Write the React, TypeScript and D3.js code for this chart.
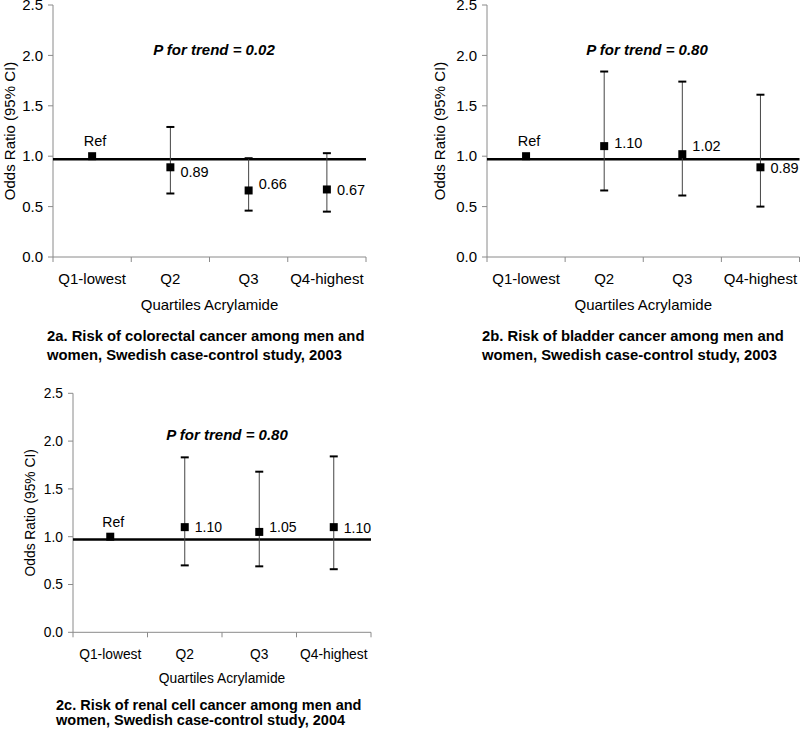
import React from "react";
import * as d3 from "d3";

// ---------- data ----------
const categories = ["Q1-lowest", "Q2", "Q3", "Q4-highest"];
const yTicks = [0, 0.5, 1.0, 1.5, 2.0, 2.5];
const referenceLineValue = 0.97;

const colorectalOR = [1.0, 0.89, 0.66, 0.67];
const colorectalLower = [null, 0.63, 0.46, 0.45];
const colorectalUpper = [null, 1.29, 0.98, 1.03];

const bladderOR = [1.0, 1.1, 1.02, 0.89];
const bladderLower = [null, 0.66, 0.61, 0.5];
const bladderUpper = [null, 1.84, 1.74, 1.61];

const renalOR = [1.0, 1.1, 1.05, 1.1];
const renalLower = [null, 0.7, 0.69, 0.66];
const renalUpper = [null, 1.83, 1.68, 1.84];

const trendP = ["0.02", "0.80", "0.80"];
const panelTitles = [
  ["2a. Risk of colorectal cancer among men and", "women, Swedish case-control study, 2003"],
  ["2b. Risk of bladder cancer among men and", "women, Swedish case-control study, 2003"],
  ["2c. Risk of renal cell cancer among men and", "women, Swedish case-control study, 2004"],
];
const xAxisTitle = "Quartiles Acrylamide";
const yAxisTitle = "Odds Ratio (95% CI)";

// ---------- layout (styling only) ----------
const layouts = [
  { x0: 53, x1: 366, yTop: 5, yBottom: 257, yTitleX: 10, pX: 214, pY: 50, titleX: 47, titleY: [336, 354.5], tickDy: 22, axisTitleDy: 48, fs: 15, lfs: 14.5, tfs: 14.8, labelNudge: [-15, 5, -7, 0] },
  { x0: 487, x1: 799.5, yTop: 5, yBottom: 257, yTitleX: 440, pX: 647, pY: 50, titleX: 482, titleY: [336, 354.5], tickDy: 22, axisTitleDy: 48, fs: 15, lfs: 14.5, tfs: 14.8, labelNudge: [-15, -3, -8, 1] },
  { x0: 73, x1: 371, yTop: 393.3, yBottom: 632.3, yTitleX: 30, pX: 227, pY: 435, titleX: 56, titleY: [705, 719.5], tickDy: 22, axisTitleDy: 45.5, fs: 13.8, lfs: 14, tfs: 14.5, labelNudge: [-15, 0, -5, 1] },
];

const panelData = [
  { or: colorectalOR, lo: colorectalLower, hi: colorectalUpper },
  { or: bladderOR, lo: bladderLower, hi: bladderUpper },
  { or: renalOR, lo: renalLower, hi: renalUpper },
];

const FONT = "'Liberation Sans', Arial, Helvetica, sans-serif";
const AXIS = "#8a8a8a";

function Panel({ idx }: { idx: number }) {
  const L = layouts[idx];
  const D = panelData[idx];
  const x = d3.scaleBand<string>().domain(categories).range([L.x0, L.x1]).padding(0);
  const y = d3.scaleLinear().domain([0, 2.5]).range([L.yBottom, L.yTop]);
  const bw = x.bandwidth();
  const cap = 4;
  const ms = 8;
  const bounds = categories.map((c) => x(c) as number).concat([L.x1]);

  return (
    <g fontFamily={FONT}>
      {/* y axis */}
      <line x1={L.x0} x2={L.x0} y1={y(2.5)} y2={y(0)} stroke={AXIS} strokeWidth={1} />
      {yTicks.map((t) => (
        <g key={t}>
          <line x1={L.x0 - 5} x2={L.x0} y1={y(t)} y2={y(t)} stroke={AXIS} strokeWidth={1} />
          <text x={L.x0 - 10} y={y(t)} dy="0.35em" textAnchor="end" fontSize={L.fs} fill="#000">
            {t.toFixed(1)}
          </text>
        </g>
      ))}
      {/* x axis */}
      <line x1={L.x0} x2={L.x1} y1={y(0)} y2={y(0)} stroke={AXIS} strokeWidth={1} />
      {bounds.map((b, i) => (
        <line key={i} x1={b} x2={b} y1={y(0)} y2={y(0) + 5} stroke={AXIS} strokeWidth={1} />
      ))}
      {categories.map((c) => (
        <text key={c} x={(x(c) as number) + bw / 2} y={y(0) + L.tickDy} dy="0.35em" textAnchor="middle" fontSize={L.fs}>
          {c}
        </text>
      ))}
      <text x={(L.x0 + L.x1) / 2} y={y(0) + L.axisTitleDy} dy="0.35em" textAnchor="middle" fontSize={L.fs}>
        {xAxisTitle}
      </text>
      <text
        transform={`translate(${L.yTitleX},${(y(0) + y(2.5)) / 2 + 0}) rotate(-90)`}
        textAnchor="middle"
        dy="0.35em"
        fontSize={L.fs}
      >
        {yAxisTitle}
      </text>
      {/* reference line */}
      <line x1={L.x0} x2={L.x1} y1={y(referenceLineValue)} y2={y(referenceLineValue)} stroke="#000" strokeWidth={2.5} />
      {/* error bars */}
      {categories.map((c, i) => {
        const cx = (x(c) as number) + bw / 2;
        const lo = D.lo[i];
        const hi = D.hi[i];
        if (lo == null || hi == null) return null;
        return (
          <g key={"e" + c}>
            <line x1={cx} x2={cx} y1={y(hi)} y2={y(lo)} stroke="#444" strokeWidth={1} />
            <line x1={cx - cap} x2={cx + cap} y1={y(hi)} y2={y(hi)} stroke="#000" strokeWidth={2} />
            <line x1={cx - cap} x2={cx + cap} y1={y(lo)} y2={y(lo)} stroke="#000" strokeWidth={2} />
          </g>
        );
      })}
      {/* markers and labels */}
      {categories.map((c, i) => {
        const cx = (x(c) as number) + bw / 2;
        const v = D.or[i];
        const isRef = i === 0;
        return (
          <g key={"m" + c}>
            <rect x={cx - ms / 2} y={y(v) - ms / 2} width={ms} height={ms} fill="#000" />
            {isRef ? (
              <text x={cx + 3} y={y(v) + L.labelNudge[i]} dy="0.35em" textAnchor="middle" fontSize={L.lfs}>
                Ref
              </text>
            ) : (
              <text x={cx + 10} y={y(v) + L.labelNudge[i]} dy="0.35em" textAnchor="start" fontSize={L.lfs}>
                {v.toFixed(2)}
              </text>
            )}
          </g>
        );
      })}
      {/* p for trend */}
      <text x={L.pX} y={L.pY} dy="0.35em" textAnchor="middle" fontSize={15} fontWeight="bold" fontStyle="italic">
        {`P for trend = ${trendP[idx]}`}
      </text>
      {/* panel title */}
      {panelTitles[idx].map((line, k) => (
        <text key={k} x={L.titleX} y={L.titleY[k]} dy="0.35em" fontSize={L.tfs} fontWeight="bold">
          {line}
        </text>
      ))}
    </g>
  );
}

export default function App() {
  return (
    <svg
      width={800}
      height={738}
      style={{ position: "absolute", left: 0, top: 0, background: "#fff" }}
    >
      <rect width={800} height={738} fill="#fff" />
      {[0, 1, 2].map((i) => (
        <Panel key={i} idx={i} />
      ))}
    </svg>
  );
}
